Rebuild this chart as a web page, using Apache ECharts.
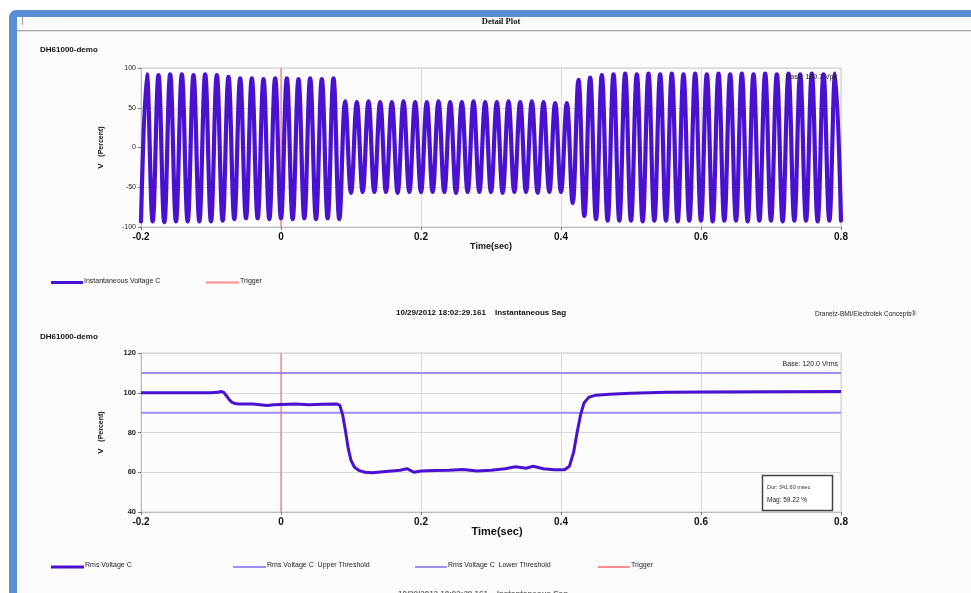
<!DOCTYPE html>
<html><head><meta charset="utf-8">
<script src="https://cdn.jsdelivr.net/npm/echarts/dist/echarts.min.js"></script>
<style>html,body{margin:0;padding:0;background:#fff;overflow:hidden}#c{width:971px;height:593px}</style>
</head><body><div id="c"></div><script>
// ---------- data ----------
const timeTicks = [-0.2, 0, 0.2, 0.4, 0.6, 0.8];
const topYTicks = [-100, -50, 0, 50, 100];
const bottomYTicks = [40, 60, 80, 100, 120];
const triggerTime = 0;
const upperThreshold = 110;
const lowerThreshold = 90;
// instantaneous waveform: successive half-cycle extrema (60 Hz), starting at t = -0.2 s
const waveStart = -0.2;
const waveHalfPeriod = 1 / 120;
const waveExtrema = [
  -93, 92, -93, 91, -94, 92, -93, 92, -93, 91, -93, 92, -93, 91,
  -92, 89, -90, 87, -89, 87, -89, 86, -90, 87, -89, 87, -90, 86, -89, 87, -90, 86, -89, 87, -90,
  58, -57, 57, -56, 58, -56, 57, -56, 57, -57, 58, -56, 57, -56, 57, -56, 58, -56, 57, -57,
  57, -56, 58, -56, 57, -56, 57, -57, 58, -56, 57, -56, 58, -57, 57, -56, 56, -56, 56,
  -70, 85, -86, 88, -90, 91, -92, 92, -92, 93, -92, 92, -93, 93, -92, 92, -92, 93, -93, 92,
  -92, 93, -92, 92, -93, 93, -92, 92, -92, 93, -93, 92, -92, 93, -92, 92, -93, 93, -92, 92,
  -92, 93, -93, 92, -92, 93, -92
];
// rms voltage (percent)
const rmsTime = [-0.2, -0.1, -0.09, -0.086, -0.082, -0.078, -0.074, -0.07, -0.066, -0.06, -0.04, -0.03, -0.02, -0.01, 0,
  0.02, 0.04, 0.06, 0.08, 0.084, 0.088, 0.092, 0.096, 0.1, 0.105, 0.112, 0.12, 0.13, 0.15, 0.17, 0.18, 0.19, 0.2,
  0.22, 0.24, 0.26, 0.28, 0.3, 0.32, 0.335, 0.35, 0.36, 0.375, 0.39, 0.405, 0.412, 0.418, 0.423, 0.428, 0.433,
  0.44, 0.45, 0.47, 0.5, 0.55, 0.6, 0.7, 0.8];
const rmsValue = [100, 100, 100.2, 100.6, 100.3, 98.5, 96.5, 95.2, 94.6, 94.3, 94.3, 94.0, 93.6, 94.0, 94.1,
  94.3, 94.0, 94.2, 94.3, 93.8, 89, 81, 72, 66, 62.5, 60.8, 60, 59.8, 60.4, 61, 61.8, 60, 60.6,
  60.9, 61, 61.4, 60.6, 61, 61.8, 62.8, 62, 63, 61.8, 61.2, 61.3, 63, 70, 80, 89, 95,
  97.8, 98.8, 99.3, 99.8, 100.2, 100.4, 100.5, 100.6];

// ---------- styles ----------
const FONT = '"Liberation Sans", Arial, sans-serif';
const PURPLE = '#4a12d0';
const THR = '#9d8ff0';
const RED = '#ff5c5c';
const GRIDC = '#d9d9d9';

const waveData = waveExtrema.map((v, i) => [waveStart + i * waveHalfPeriod, v]);
const rmsData = rmsTime.map((t, i) => [t, rmsValue[i]]);

function fmtX(v) { const r = Math.round(v * 10) / 10; return r === 0 ? '0' : String(r); }

function xAxisCfg(gi) {
  return {
    type: 'value', gridIndex: gi, min: timeTicks[0], max: timeTicks[timeTicks.length - 1], interval: 0.2,
    axisLine: { show: true, onZero: false, lineStyle: { color: '#bcbcbc', width: 1 } },
    axisTick: { show: true, length: 3, lineStyle: { color: '#777' } },
    axisLabel: { fontFamily: FONT, fontSize: 10, fontWeight: 'bold', color: '#111', margin: 5, formatter: fmtX },
    splitLine: { show: true, lineStyle: { color: GRIDC, width: 1 } }
  };
}
function yAxisCfg(gi, ticks, bold) {
  return {
    type: 'value', gridIndex: gi, min: ticks[0], max: ticks[ticks.length - 1], interval: ticks[1] - ticks[0],
    name: '{a|V}  {b|(Percent)}', nameLocation: 'middle', nameGap: 34, nameRotate: 90,
    nameTextStyle: { rich: {
      a: { fontFamily: FONT, fontSize: 8, fontWeight: 'bold', color: '#111' },
      b: { fontFamily: FONT, fontSize: 7, fontWeight: 'bold', color: '#111' } } },
    axisLine: { show: true, onZero: false, lineStyle: { color: '#bcbcbc', width: 1 } },
    axisTick: { show: true, length: 3, lineStyle: { color: '#777' } },
    axisLabel: { fontFamily: FONT, fontSize: bold ? 7.5 : 7, fontWeight: bold ? 'bold' : 'normal', color: '#222', margin: 5 },
    splitLine: { show: true, lineStyle: { color: GRIDC, width: 1 } }
  };
}

function txt(x, y, text, size, opts) {
  opts = opts || {};
  return { type: 'text', x: x, y: y, z: 50, silent: true, style: {
    text: text, fill: opts.color || '#111',
    font: (opts.bold ? 'bold ' : '') + size + 'px ' + (opts.family || FONT),
    align: opts.align || 'left', verticalAlign: 'middle',
    textAlign: opts.align || 'left', textVerticalAlign: 'middle' } };
}
function seg(x1, y, x2, color, w) {
  return { type: 'line', z: 50, silent: true, shape: { x1: x1, y1: y, x2: x2, y2: y }, style: { stroke: color, lineWidth: w } };
}

const graphic = [
  { type: 'rect', z: -20, silent: true, shape: { x: 9, y: 10, width: 975, height: 600, r: [7, 0, 0, 0] }, style: { fill: '#5a8fd6' } },
  { type: 'rect', z: -19, silent: true, shape: { x: 17, y: 17, width: 960, height: 600 }, style: { fill: '#fcfcfc' } },
  { type: 'rect', z: -18, silent: true, shape: { x: 17, y: 17, width: 960, height: 13 }, style: { fill: '#fbfbfb' } },
  { type: 'line', z: -17, silent: true, shape: { x1: 17, y1: 30.5, x2: 971, y2: 30.5 }, style: { stroke: '#a9a9a9', lineWidth: 1 } },
  { type: 'line', z: -17, silent: true, shape: { x1: 17, y1: 31.5, x2: 971, y2: 31.5 }, style: { stroke: '#dedede', lineWidth: 1 } },
  { type: 'line', z: -17, silent: true, shape: { x1: 22.5, y1: 17, x2: 22.5, y2: 25 }, style: { stroke: '#9a9a9a', lineWidth: 1 } },
  txt(501, 22, 'Detail Plot', 8.5, { bold: true, align: 'center', family: '"Liberation Serif", serif' }),
  txt(40, 50, 'DH61000-demo', 8, { bold: true }),
  txt(40, 337, 'DH61000-demo', 8, { bold: true }),
  txt(491, 246.5, 'Time(sec)', 9, { bold: true, align: 'center' }),
  txt(497, 532, 'Time(sec)', 11, { bold: true, align: 'center' }),
  txt(837, 77, 'Base: 169.7 Vpk', 7, { align: 'right', color: '#222' }),
  txt(838, 364, 'Base: 120.0 Vrms', 7, { align: 'right', color: '#222' }),
  // top legend
  seg(51, 282.5, 83, PURPLE, 3), txt(84, 281.5, 'Instantaneous Voltage C', 7, { color: '#222' }),
  seg(206, 282.5, 239, '#ff8c8c', 2), txt(240, 281.5, 'Trigger', 7, { color: '#222' }),
  // middle title line
  txt(396, 312.5, '10/29/2012 18:02:29.161', 8, { bold: true }),
  txt(495, 312.5, 'Instantaneous Sag', 8, { bold: true }),
  txt(815, 314.5, 'Dranetz-BMI/Electrotek Concepts\u00ae', 6.5, { color: '#222' }),
  // bottom legend
  seg(51, 567, 84, PURPLE, 3), txt(85, 565.5, 'Rms Voltage C', 7, { color: '#222' }),
  seg(233, 567, 266, THR, 2), txt(267, 565.5, 'Rms Voltage C  Upper Threshold', 7, { color: '#222' }),
  seg(415, 567, 447, THR, 2), txt(448, 565.5, 'Rms Voltage C  Lower Threshold', 7, { color: '#222' }),
  seg(598, 567, 630, '#ff8c8c', 2), txt(631, 565.5, 'Trigger', 7, { color: '#222' }),
  // cut-off text at bottom
  txt(398, 594, '10/29/2012 18:02:29.161    Instantaneous Sag', 8, { bold: true, color: '#666' }),
  // dur/mag box
  { type: 'rect', z: 60, silent: true, shape: { x: 762.5, y: 475.5, width: 70, height: 35 }, style: { fill: '#ffffff', stroke: '#444', lineWidth: 1.5 } },
  Object.assign(txt(767, 487, 'Dur: 341.60 msec', 5.5, { color: '#333' }), { z: 61 }),
  Object.assign(txt(767, 500, 'Mag: 59.22 %', 6.5, { color: '#222' }), { z: 61 })
];

const option = {
  animation: false,
  backgroundColor: 'transparent',
  graphic: graphic,
  grid: [
    { left: 141, top: 68, width: 700, height: 159, show: true, borderColor: '#cfcfcf', borderWidth: 1, backgroundColor: 'transparent' },
    { left: 141, top: 353, width: 700, height: 159, show: true, borderColor: '#cfcfcf', borderWidth: 1, backgroundColor: 'transparent' }
  ],
  xAxis: [xAxisCfg(0), xAxisCfg(1)],
  yAxis: [yAxisCfg(0, topYTicks, false), yAxisCfg(1, bottomYTicks, true)],
  series: [
    { name: 'Trigger', type: 'line', xAxisIndex: 0, yAxisIndex: 0, z: 2, symbol: 'none',
      data: [[triggerTime, topYTicks[0]], [triggerTime, topYTicks[topYTicks.length - 1]]],
      lineStyle: { color: RED, width: 1 } },
    { name: 'Instantaneous Voltage C', type: 'line', xAxisIndex: 0, yAxisIndex: 0, z: 3, symbol: 'none',
      smooth: 0.4, data: waveData, lineStyle: { color: PURPLE, width: 4.2, join: 'round', cap: 'round' } },
    { name: 'Rms Voltage C  Upper Threshold', type: 'line', xAxisIndex: 1, yAxisIndex: 1, z: 2, symbol: 'none',
      data: [[timeTicks[0], upperThreshold], [timeTicks[timeTicks.length - 1], upperThreshold]],
      lineStyle: { color: THR, width: 2 } },
    { name: 'Rms Voltage C  Lower Threshold', type: 'line', xAxisIndex: 1, yAxisIndex: 1, z: 2, symbol: 'none',
      data: [[timeTicks[0], lowerThreshold], [timeTicks[timeTicks.length - 1], lowerThreshold]],
      lineStyle: { color: THR, width: 2 } },
    { name: 'Trigger', type: 'line', xAxisIndex: 1, yAxisIndex: 1, z: 2, symbol: 'none',
      data: [[triggerTime, bottomYTicks[0]], [triggerTime, bottomYTicks[bottomYTicks.length - 1]]],
      lineStyle: { color: RED, width: 1 } },
    { name: 'Rms Voltage C', type: 'line', xAxisIndex: 1, yAxisIndex: 1, z: 3, symbol: 'none',
      data: rmsData, lineStyle: { color: PURPLE, width: 3 } }
  ]
};
const chart = echarts.init(document.getElementById('c'), null, { renderer: 'canvas' });
chart.setOption(option);
</script></body></html>
